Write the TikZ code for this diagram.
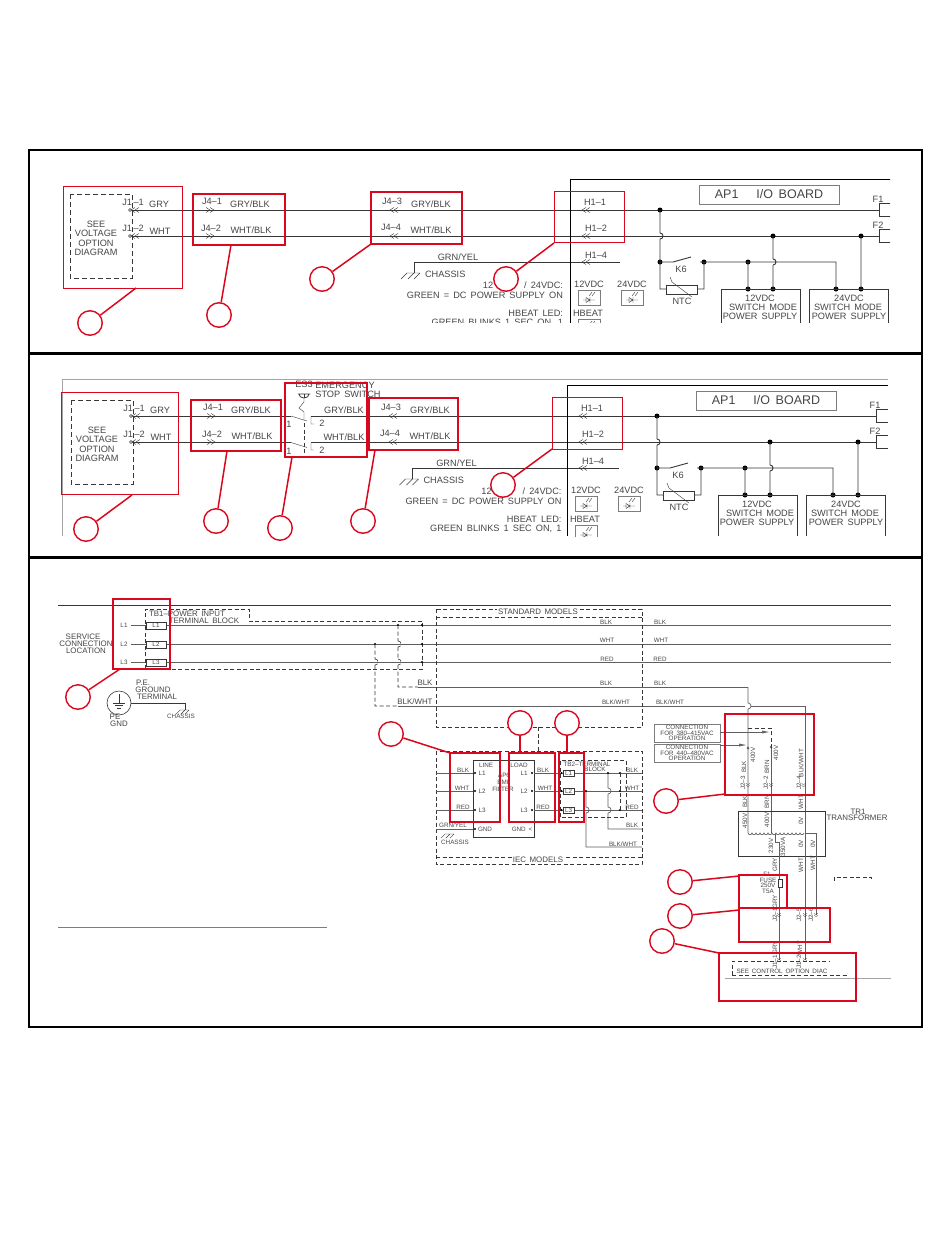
\documentclass[tikz,border=0pt]{standalone}
\usepackage{fontspec}
\usetikzlibrary{arrows.meta}
\setmainfont[WordSpace=1.6]{Liberation Sans}
\definecolor{redc}{RGB}{218,8,30}
\definecolor{wire}{RGB}{55,55,55}
\definecolor{txtc}{RGB}{70,70,70}
\definecolor{boxg}{RGB}{125,125,125}
\newcounter{nn}
\newcommand{\lbl}[4][]{\stepcounter{nn}\node[lab,#1] (n\thenn) at (#2,#3) {#4};}
\newcommand{\chevR}[2]{\draw[thin,wire] (#1-6,#2-2.5)--(#1-2,#2)--(#1-6,#2+2.5) (#1-2,#2-2.5)--(#1+2,#2)--(#1-2,#2+2.5);}
\newcommand{\chevL}[2]{\draw[thin,wire] (#1+6,#2-2.5)--(#1+2,#2)--(#1+6,#2+2.5) (#1+2,#2-2.5)--(#1-2,#2)--(#1+2,#2+2.5);}
\newcommand{\chevD}[2]{\draw[ultra thin,wire] (#1-2,#2-2)--(#1,#2)--(#1+2,#2-2) (#1-2,#2)--(#1,#2+2)--(#1+2,#2);}
\newcommand{\hopv}[2]{(#1,#2-3) .. controls (#1+4,#2-3) and (#1+4,#2+3) .. (#1,#2+3)}
\newcommand{\fdot}[2]{\fill[black] (#1,#2) circle (2.5);}
\newcommand{\sdot}[2]{\fill[black] (#1,#2) circle (1.2);}
\newcommand{\gnd}[3]{\begin{scope}[shift={(#1,#2)},scale=#3]\draw[thin,wire] (-7,0)--(6,0) (-7,0)--(-13,6) (0,0)--(-6,6) (6,0)--(0,6);\end{scope}}
\newcommand{\led}[2]{\draw[boxg,line width=.8] (#1,#2) rectangle ++(22,15);
 \draw[wire,thin] (#1+5,#2+10)--(#1+17,#2+10) (#1+12,#2+7)--(#1+12,#2+13) (#1+8,#2+7.5)--(#1+8,#2+12.5)--(#1+12,#2+10)--cycle
 (#1+11,#2+6)--(#1+14,#2+2) (#1+14,#2+6)--(#1+17,#2+2);}
\newcommand{\cbox}[6][callthick]{\node[#1,minimum width={(#5-#3)*1pt},minimum height={(#6-#4)*1pt}] (#2) at ({(#3+#5)/2},{(#4+#6)/2}) {};}
\newcommand{\call}[6]{\node[callc] (#1) at (#2,#3) {}; \coordinate (#1e) at (#5,#6); \draw[callline] (#1) -- (#1e);}
% --- left part of the power board (voltage option)
\newcommand{\partleft}{
 \draw[wire,dashed,dash pattern=on 5pt off 3pt,line width=.9] (70,194) rectangle (132,278);
 \lbl{96}{224}{SEE}\lbl{96}{233.5}{VOLTAGE}\lbl{96}{243}{OPTION}\lbl{96}{252}{DIAGRAM}
 \lbl{133}{202}{J1\,–1}\lbl{159}{204}{GRY}\lbl{133}{228}{J1\,–2}\lbl{160}{231}{WHT}
 \chevL{133}{210}\chevL{133}{236}
 \draw[wire,thin] (130,210) circle (1.5) (130,236) circle (1.5);
 \chevR{212}{210}\chevR{212}{236}
 \lbl{212}{201}{J4–1}\lbl{250}{204}{GRY/BLK}\lbl{211}{228}{J4–2}\lbl{251}{230}{WHT/BLK}
}
\newcommand{\partjfour}{
 \chevL{392}{210}\chevL{392}{236}
 \lbl{392}{201}{J4–3}\lbl{431}{204}{GRY/BLK}\lbl{391}{227}{J4–4}\lbl{431}{230}{WHT/BLK}
}
% --- mid part: chassis + legend
\newcommand{\partmid}[1]{
 \draw[wire,line width=.8] (620,262)--(414,262)--(414,273);
 \gnd{414}{273}{1}
 \lbl[anchor=west]{425}{274}{CHASSIS}\lbl{458}{257}{GRN/YEL}
 \lbl[anchor=east]{563}{295}{GREEN = DC POWER SUPPLY ON}
 \lbl[anchor=east]{563}{313}{HBEAT LED:}
 \lbl[anchor=east]{563}{323}{GREEN BLINKS 1 SEC ON, 1}
 \lbl[anchor=east]{563}{285}{/ 24VDC:}
 \lbl{488}{285}{12}
}
% --- right part: I/O board
\newcommand{\partboard}{
 \draw[black,line width=1] (891,179)--(570,179)--(570,330);
 \node[draw=boxg,line width=.8,minimum width=140pt,minimum height=19pt,inner sep=0] (ap1) at (769,194.5) {};
 \lbl[font=\fontsize{12.5}{13}\selectfont]{769}{194.5}{AP1\hspace{18pt}I/O\ BOARD}
 \lbl{595}{202}{H1–1}\lbl{596}{228}{H1–2}\lbl{596}{255}{H1–4}
 \chevL{584}{210}\chevL{584}{236}\chevL{584}{262}
 \fdot{660}{210}\fdot{660}{262}\fdot{704}{262}\fdot{748}{262}\fdot{773}{236}\fdot{861}{236}
 \fdot{748}{289}\fdot{773}{289}\fdot{836}{289}\fdot{861}{289}
 \draw[wire,line width=.9] (660,210)--(660,233) \hopv{660}{236} (660,239)--(660,289)--(666,289)
  (697,289)--(704,289)--(704,262) (660,262)--(673,262) (673,262)--(691,257) (700,262)--(836,262)--(836,289)
  (748,262)--(748,289) (773,236)--(773,259) \hopv{773}{262} (773,265)--(773,289) (861,236)--(861,289);
 \draw[wire,line width=.9] (666,285) rectangle (697,294);
 \draw[wire,thin] (670,277)--(672,282)--(692,297);
 \lbl{681}{269}{K6}\lbl{682}{301}{NTC}
 \lbl{878}{199}{F1}\lbl{878}{225}{F2}
 \draw[wire,line width=.8] (891,203)--(879,203)--(879,216)--(891,216) (891,229)--(879,229)--(879,242)--(891,242);
 \draw[wire,line width=.8] (721,330)--(721,289)--(800,289)--(800,330) (809,330)--(809,289)--(888,289)--(888,330);
 \lbl{760}{298}{12VDC}\lbl{763}{307}{SWITCH MODE}\lbl{760}{316.5}{POWER SUPPLY}
 \lbl{849}{298}{24VDC}\lbl{848}{307}{SWITCH MODE}\lbl{849}{316.5}{POWER SUPPLY}
 \lbl{589}{284}{12VDC}\lbl{632}{284}{24VDC}\lbl{588}{313}{HBEAT}
 \led{578}{290}\led{621}{290}\led{578}{319}
}
\tikzset{
 x=1pt,y=-1pt,
 lab/.style={inner sep=0,outer sep=0,text=txtc,font=\fontsize{9.2}{10}\selectfont},
 sm/.style={lab,font=\fontsize{6.3}{7}\selectfont},
 md/.style={lab,font=\fontsize{7.9}{8}\selectfont},
 wr/.style={wire,line width=.9},
 wg/.style={wire!80,line width=.7},
 dsh/.style={wire,line width=.6,dash pattern=on 4pt off 2.5pt},
 callthick/.style={draw=redc,line width=2,inner sep=0,outer sep=0},
 callthin/.style={draw=redc,line width=1,inner sep=0,outer sep=0},
 callc/.style={circle,draw=redc,line width=1.4,fill=white,minimum size=24.5pt,inner sep=0},
 callline/.style={redc,line width=1.5},
 panel/.style={black,line width=1.4},
}
\begin{document}
\begin{tikzpicture}
\useasboundingbox (0,0) rectangle (950,1248);
\fill[white] (0,0) rectangle (950,1248);
% ================= panel 1
\begin{scope}
 \clip (40,170) rectangle (890,322.6);
 \draw[wr] (132,210)--(879,210) (132,236)--(879,236);
 \partleft
 \partjfour
 \partmid{}
 \partboard
\end{scope}
% ================= panel 2
\draw[boxg!70,line width=.7] (62,536)--(62,379)--(888,379);
\begin{scope}
 \clip (40,370) rectangle (889,536);
 \draw[wr] (133,416)--(291,416) (311,416)--(876,416) (133,442.5)--(291,442.5) (311,442.5)--(876,442.5);
 \begin{scope}[shift={(1,206)}]\partleft\end{scope}
 \begin{scope}[shift={(-1,206)}]\partjfour\end{scope}
 \begin{scope}[shift={(-1.5,206)}]\partmid{}\end{scope}
 \begin{scope}[shift={(-3,206)}]\partboard\end{scope}
 % emergency stop switch
 \draw[wire,thin] (291,416)--(307,421) (311,416)--(311,424)--(314,424) (291,442.5)--(307,447.5) (311,442.5)--(311,450)--(314,450);
 \draw[wire,thin] (304,398)--(304,402)--(299,408)--(304,412)--(304,420);
 \draw[wire,line width=.8] (298,394)--(310,394) (299,394) arc (180:0:5 and 4);
 \draw[wire,thin] (304,394)--(304,398);
 \draw[dsh] (304,423)--(304,455);
 \lbl{289}{424}{1}\lbl{322}{423.5}{2}\lbl{289}{451}{1}\lbl{322}{450}{2}
 \lbl{304}{384}{ES3}\lbl{345}{385}{EMERGENCY}\lbl{348}{394}{STOP SWITCH}
 \lbl{344}{410}{GRY/BLK}\lbl{344}{437}{WHT/BLK}
\end{scope}
% ================= panel 3
\draw[wr] (58,605)--(891,605);
\draw[boxg,line width=.7] (58,927)--(327,927);
\draw[boxg!70,line width=.7] (725,978)--(891,978);
% main feeders
\draw[wg] (131,625)--(146,625) (166,625)--(891,625) (131,644)--(146,644) (166,644)--(891,644) (131,662)--(146,662) (166,662)--(891,662);
\draw[wg] (418,687)--(748,687);
\draw[wg] (398,706)--(745,706) (751,706)--(805,706)--(805,833);
\draw[wg] (748,687) -- (748,703) \hopv{748}{706} (748,709)--(748,833);
\draw[wg] (771,747)--(771,833);
\draw[dsh] (748,728)--(771,728)--(771,747);
% TB1
\foreach \y in {622,641,659}{\draw[wire,line width=.5] (146,\y) rectangle (166,\y+7);}
\lbl[sm]{156}{625.5}{L1}\lbl[sm]{156}{644.5}{L2}\lbl[sm]{156}{662.5}{L3}
\lbl[sm]{124}{625}{L1}\lbl[sm]{124}{644}{L2}\lbl[sm]{124}{662}{L3}
\draw[dsh] (145,669)--(145,609)--(249,609)--(249,621)--(422,621)--(422,669)--(145,669);
\lbl[md]{187}{614}{TB1–POWER INPUT}\lbl[md]{204}{621}{TERMINAL BLOCK}
\lbl[md]{83}{637}{SERVICE}\lbl[md]{86}{644}{CONNECTION}\lbl[md]{86}{651}{LOCATION}
\sdot{398}{625}\sdot{422}{625}\sdot{375}{644}\sdot{422}{644}\sdot{422}{662}
\draw[dsh] (398,625)--(398,641) \hopv{398}{644} (398,647)--(398,659) \hopv{398}{662} (398,665)--(398,687)--(418,687);
\draw[dsh] (375,644)--(375,659) \hopv{375}{662} (375,665)--(375,706)--(398,706);
\lbl[md]{425}{683}{BLK}\lbl[md]{415}{702}{BLK/WHT}
% PE
\node[draw=wire,circle,line width=.6,minimum size=24pt,inner sep=0] (pe) at (119,703) {};
\draw[wire,line width=.5] (119,694)--(119,703) (113,703)--(125,703) (115,705.5)--(123,705.5) (117,708)--(121,708);
\coordinate (chs) at (185,710);
\draw[wire,line width=.6] (pe)--(185,703)--(chs);
\gnd{185}{710}{.7}
\lbl[md]{143}{683}{P.E.}\lbl[md]{153}{689.5}{GROUND}\lbl[md]{157}{697}{TERMINAL}
\lbl[sm]{181}{716}{CHASSIS}\lbl[md]{115}{717}{PE}\lbl[md]{119}{724}{GND}
% standard models
\draw[dsh] (436,609) rectangle (642,727);
\draw[dsh] (436,617)--(642,617);
\node[md,fill=white,inner xsep=1pt] (std) at (538,612) {STANDARD MODELS};
\lbl[sm]{606}{622}{BLK}\lbl[sm]{607}{640}{WHT}\lbl[sm]{607}{659}{RED}\lbl[sm]{606}{683}{BLK}\lbl[sm]{616}{702}{BLK/WHT}
\lbl[sm]{660}{622}{BLK}\lbl[sm]{661}{640}{WHT}\lbl[sm]{660}{659}{RED}\lbl[sm]{660}{683}{BLK}\lbl[sm]{670}{702}{BLK/WHT}
\draw[dsh] (538,727)--(538,751);
% IEC models
\draw[dsh] (436,751) rectangle (642,864);
\draw[dsh] (436,857)--(642,857);
\node[md,fill=white,inner xsep=1pt] (iec) at (538,860) {IEC MODELS};
\draw[wr] (473,760) rectangle (534,837);
\draw[wg] (436,773)--(473,773) (436,791)--(473,791) (436,810)--(473,810) (534,773)--(563,773) (534,791)--(563,791) (534,810)--(563,810)
 (574,773)--(642,773) (574,791)--(642,791) (574,810)--(642,810);
\draw[wg] (608,773)--(608,788) \hopv{608}{791} (608,794)--(608,807) \hopv{608}{810} (608,813)--(608,829)--(642,829);
\draw[wg] (586,791)--(586,807) \hopv{586}{810} (586,813)--(586,847)--(642,847);
\draw[wg] (436,829)--(473,829);
\foreach \p in {475,532}{\foreach \q in {773,791,810}{\sdot{\p}{\q}}}
\sdot{475}{829}\sdot{561.5}{773}\sdot{561.5}{791}\sdot{561.5}{810}
\sdot{608}{773}\sdot{586}{791}\sdot{620}{773}\sdot{620}{791}\sdot{620}{810}
\draw[dsh] (560,817)--(560,760)--(626,760)--(626,817)--cycle;
\draw[dsh] (620,773)--(620,810);
\foreach \y in {770,788,807}{\draw[wire,line width=.5] (563,\y) rectangle (574,\y+6);}
\lbl[sm]{568.5}{773}{L1}\lbl[sm]{568.5}{791}{L2}\lbl[sm]{568.5}{810}{L3}
\lbl[sm]{463}{770}{BLK}\lbl[sm]{462}{788}{WHT}\lbl[sm]{463}{807}{RED}\lbl[sm]{453}{825}{GRN/YEL}
\gnd{450}{834}{.7}\lbl[sm]{455}{842}{CHASSIS}
\lbl[sm]{486}{765}{LINE}\lbl[sm]{482}{773}{L1}\lbl[sm]{482}{791}{L2}\lbl[sm]{482}{810}{L3}\lbl[sm]{485}{829}{GND}
\lbl[sm]{519}{765}{LOAD}\lbl[sm]{524}{773}{L1}\lbl[sm]{524}{791}{L2}\lbl[sm]{524}{810}{L3}\lbl[sm]{522}{829}{GND <}
\lbl[sm]{504}{775}{AP6}\lbl[sm]{503}{782}{EMI}\lbl[sm]{503}{789}{FILTER}
\lbl[sm]{543}{770}{BLK}\lbl[sm]{545}{788}{WHT}\lbl[sm]{543}{807}{RED}
\lbl[sm]{587}{764}{TB2–TERMINAL}\lbl[sm]{595}{769.5}{BLOCK}
\lbl[sm]{632}{770}{BLK}\lbl[sm]{632}{788}{WHT}\lbl[sm]{632}{807}{RED}\lbl[sm]{632}{825}{BLK}\lbl[sm]{623}{844}{BLK/WHT}
% connection notes
\draw[boxg,line width=.7] (654,724) rectangle (720,742);
\draw[boxg,line width=.7] (654,744) rectangle (720,762);
\lbl[sm]{687}{727}{CONNECTION}\lbl[sm]{687}{733}{FOR 380–415VAC}\lbl[sm]{687}{738.5}{OPERATION}
\lbl[sm]{687}{747.5}{CONNECTION}\lbl[sm]{687}{753}{FOR 440–480VAC}\lbl[sm]{687}{758.5}{OPERATION}
\draw[wg,-{Latex[length=8pt,width=3pt]}] (720,732)--(770,732);
\draw[wg,-{Latex[length=8pt,width=3pt]}] (720,745)--(747,745);
\draw[wire,line width=.4] (748,748) circle (1.2) (771,747) circle (1.2);
\chevD{748}{785}\chevD{771}{785}\chevD{803.5}{785}
% rotated labels
\foreach \x/\y/\t in {753/755/400V,744/767/BLK,743/783/J2–3,776/753/400V,767/767/BRN,766/783/J2–2,801/763/{BLK/WHT},799/783/J2–4,745/802/BLK,767/802/BRN,801/802/WHT,745/821/450V,767/820/400V,801/821/0V,801/844/0V,813/844/0V,771/846/230V,783/847/350VA,775/865/GRY,801/865/WHT,813/863/WHT,775/902/GRY,775/915/J2–1,799/915/J2–5,811/915/J2–6,775/948/GRY,800/948/WHT,775/962/J1–1,799/962/J1–2}{\stepcounter{nn}\node[sm,rotate=90] (n\thenn) at (\x,\y) {\t};}
% transformer
\draw[wire,line width=.7] (738,811) rectangle (825,856);
\lbl[md]{858}{812}{TR1}\lbl[md]{857}{818}{TRANSFORMER}
\draw[wire,line width=.5] (748,833) \foreach \i in {0,...,13}{ arc (180:0:2 and 1.6) };
\draw[wg] (805,833)--(816,833)--(816,915);
\draw[wg] (775,834)--(775,842)--(779,842)--(779,879) (779,887)--(779,960) (805,833)--(805,960);
\draw[wire,line width=.6] (778,879) rectangle (782,887);
\lbl[sm]{767}{874}{F1}\lbl[sm]{768}{880}{FUSE}\lbl[sm]{768}{885.5}{250V}\lbl[sm]{768}{891}{T5A}
\chevD{779}{915}\chevD{805}{915}\chevD{816}{915}\chevD{779}{960}\chevD{805}{960}
% control option
\draw[dsh] (732,975)--(732,961)--(830,961) (732,975)--(847,975)--(847,973);
\lbl[sm]{782}{971}{SEE CONTROL OPTION DIAC}
\draw[dsh] (834,881)--(834,877)--(871,877)--(871,881);
% ================= red call-outs, panel 1
\cbox[callthin]{b1}{63}{186}{182}{288}
\cbox{b2}{193}{194}{285}{245}
\cbox{b3}{371}{192}{462}{244}
\cbox[callthin]{b4}{554}{191}{624}{242}
\call{c1}{90}{323}{}{136}{288}
\call{c2}{219}{315}{}{231}{245}
\call{c3}{322}{279}{}{371}{244}
\call{c4}{506}{279}{}{554}{243}
% panel 2
\cbox[callthin]{b5}{61}{392}{178}{494}
\cbox{b6}{191}{400}{281}{451}
\cbox{b7}{285}{383}{367}{457}
\cbox{b8}{369}{398}{458}{450}
\cbox[callthin]{b9}{552}{397}{622}{449}
\call{c5}{86}{529}{}{132}{495}
\call{c6}{216}{521}{}{227}{451}
\call{c7}{280}{528}{}{292}{457}
\call{c8}{363}{521}{}{375}{450}
\call{c9}{503}{485}{}{552}{449}
% panel 3
\cbox{b10}{113}{599}{170}{669}
\cbox{b11}{450}{753}{500}{822}
\cbox{b12}{509}{753}{555}{822}
\cbox{b13}{559}{753}{584}{822}
\cbox{b14}{725}{714}{814}{795}
\cbox{b15}{739}{875}{787}{908}
\cbox{b16}{739}{908}{830}{942}
\cbox{b17}{719}{953}{856}{1001}
\call{c10}{78}{697}{}{120}{669}
\call{c11}{391}{734}{}{450}{753}
\call{c12}{520}{723}{}{520}{753}
\call{c13}{567}{723}{}{567}{753}
\call{c14}{666}{801}{}{725}{794}
\call{c15}{680}{882}{}{739}{876}
\call{c16}{680}{916}{}{739}{910}
\call{c17}{662}{941}{}{719}{953}
% ================= frames
\draw[panel] (29,150) rectangle (922,1027);
\draw[black,line width=3] (29,353)--(922,353);
\draw[black,line width=3] (29,557.5)--(922,557.5);
\end{tikzpicture}
\end{document}
